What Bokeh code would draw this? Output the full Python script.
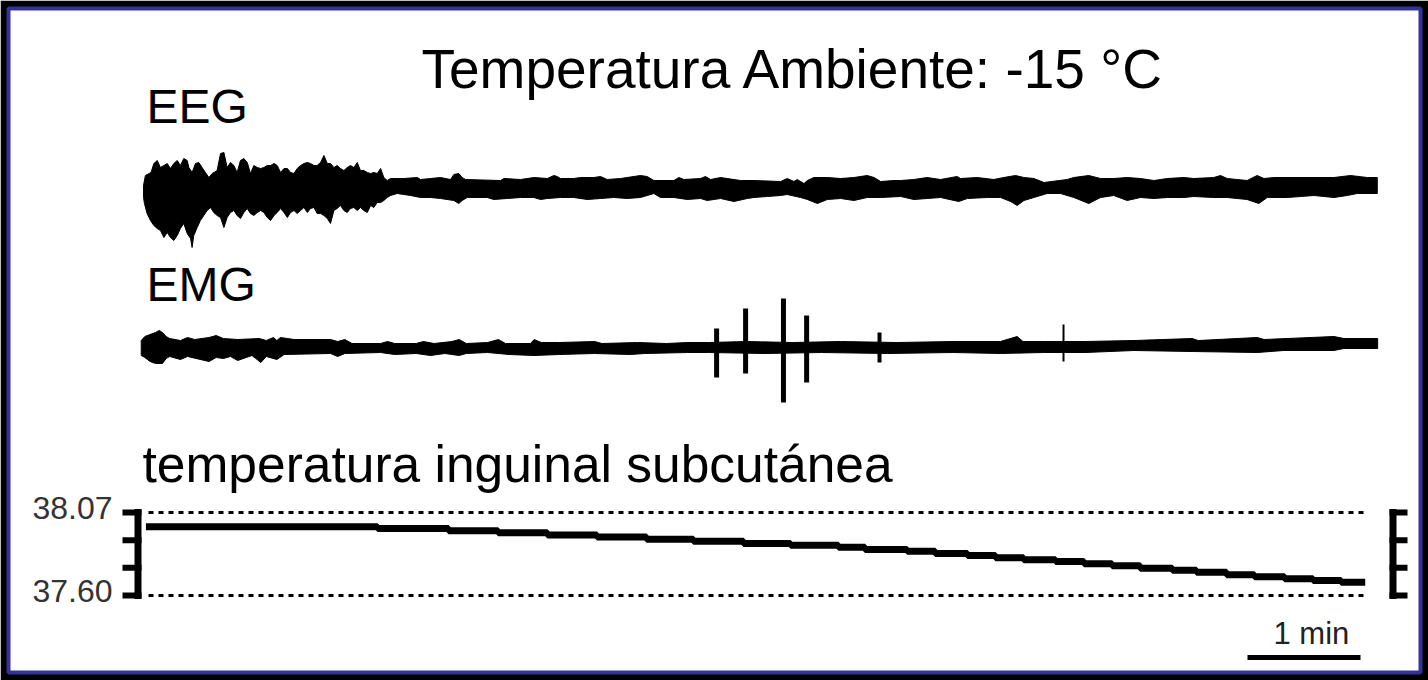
from bokeh.plotting import figure
from bokeh.models import Range1d, ColumnDataSource
from bokeh.core.properties import value
from bokeh.embed import file_html
from bokeh.resources import INLINE

# ---------------- data ----------------
title_text = "Temperatura Ambiente: -15 °C"
track_labels = ["EEG", "EMG", "temperatura inguinal subcutánea"]

# EEG envelope: (time s, amplitude a.u.) upper and lower contours
eeg_upper = [(0, 2), (1, 12), (4, 15), (5.5, 24), (7.3, 27), (9, 20), (10.8, 22), (12.6, 24), (14.3, 19),
             (16.1, 24), (17.9, 27), (19.6, 22), (21.4, 29), (23.2, 27), (24.1, 20), (25.8, 15), (27.6, 24),
             (29.4, 25), (31.1, 20), (32.9, 15), (34.7, 10), (36.5, 14), (39.1, 17), (40.9, 34), (42.7, 35),
             (44.4, 20), (46.2, 25), (48, 22), (49.7, 15), (51.5, 27), (53.3, 29), (55.1, 25), (56.8, 14),
             (58.6, 22), (60.4, 20), (62.2, 19), (63.9, 20), (65.7, 22), (67.5, 22), (69.3, 24), (71, 22),
             (72.8, 15), (74.6, 19), (76.4, 19), (78.1, 15), (79.9, 14), (81.6, 19), (83.4, 22), (85.2, 24),
             (87, 25), (88.7, 24), (90.5, 22), (92.2, 22), (94, 25), (95.8, 32), (97.6, 24), (99.3, 24),
             (101.1, 20), (102.8, 22), (104.6, 19), (106.4, 17), (108.2, 20), (109.9, 22), (111.7, 20),
             (113.5, 25), (115.2, 17), (117, 17), (118.8, 15), (120.6, 14), (122.3, 15), (124.1, 14),
             (125.9, 19), (127.6, 10), (129.4, 7), (131.2, 9), (138.3, 9), (145.4, 10),
             (147.1, 8), (152.4, 9), (157.7, 10), (163.0, 8), (164.8, 13), (167.4, 14), (169.2, 10), (171.0, 8),
             (189.6, 7), (191.4, 9), (200.2, 8), (207.3, 10), (214.4, 9), (217.9, 12), (219.7, 11), (221.4, 9),
             (228.5, 9), (232.0, 10), (239.1, 10), (242.7, 11), (246.2, 8), (253.3, 9), (256.8, 10), (263.9, 12),
             (267.4, 11), (271.0, 7), (281.6, 7), (284.3, 10), (286.9, 8), (295.8, 9), (298.4, 11), (301.1, 8),
             (306.4, 10), (309.9, 9), (317.0, 7), (324.1, 7), (338.3, 6), (341.8, 9), (345.4, 6), (347.1, 8),
             (350.7, 4), (352.5, 7), (356.0, 10), (363.1, 10), (370.2, 9), (377.2, 10), (384.3, 12), (387.9, 10),
             (391.4, 6), (398.5, 7), (402.0, 7), (409.0, 8), (416.1, 10), (423.2, 8), (432.0, 11), (433.8, 9),
             (442.7, 10), (451.5, 8), (456.8, 10), (463.0, 12), (467.5, 10), (472.8, 9), (478.1, 5), (490.4, 8),
             (494.0, 10), (501.9, 12), (508.2, 9), (515.2, 9), (522.3, 10), (529.4, 9), (536.5, 7), (543.6, 9),
             (552.4, 10), (557.7, 9), (568.3, 10), (571.9, 12), (575.4, 9), (586.0, 7), (591.3, 12), (594.9, 9),
             (600.2, 10), (610.8, 10), (621.5, 10), (632.1, 10), (640.9, 12), (649.8, 10), (655.1, 10)]
eeg_lower = [(0, -10), (0.5, -16), (1.9, -26), (3.7, -33), (5.5, -38), (7.3, -41), (9.0, -43), (10.8, -50),
             (12.6, -45), (14.3, -50), (16.1, -53), (17.9, -48), (19.6, -41), (21.4, -36), (23.2, -46), (25.0, -51),
             (25.8, -60), (26.7, -48), (28.5, -40), (30.2, -33), (32.0, -28), (33.8, -23), (35.6, -20), (37.3, -25),
             (39.1, -28), (40.9, -30), (42.7, -40), (44.4, -30), (46.2, -25), (48.0, -23), (49.7, -28), (51.5, -31),
             (53.3, -25), (55.1, -21), (56.8, -26), (58.6, -28), (60.4, -25), (62.2, -23), (63.9, -25), (65.7, -30),
             (67.5, -33), (69.3, -28), (71.0, -25), (72.8, -21), (74.6, -25), (76.4, -30), (78.1, -25), (79.9, -23),
             (81.6, -26), (83.4, -23), (85.2, -20), (87.0, -25), (88.7, -21), (90.5, -20), (92.2, -26), (94.0, -26),
             (95.8, -28), (97.6, -31), (99.3, -36), (101.1, -23), (102.8, -21), (104.6, -18), (106.4, -23),
             (108.2, -25), (109.9, -21), (111.7, -20), (113.5, -23), (115.2, -20), (117.0, -23), (118.8, -25),
             (120.6, -18), (122.3, -20), (124.1, -15), (125.9, -15), (127.6, -13), (129.4, -10), (131.2, -8),
             (134.7, -6), (141.8, -8),
             (147.1, -10), (152.4, -10), (157.7, -11), (164.8, -13), (167.4, -16), (169.2, -13), (171.9, -10),
             (182.5, -10), (186.0, -12), (193.1, -11), (200.2, -10), (207.3, -10), (210.8, -12), (214.4, -11),
             (221.4, -10), (228.5, -10), (235.6, -12), (242.7, -11), (249.7, -10), (256.8, -11), (263.9, -10),
             (271.0, -6), (274.5, -10), (281.6, -10), (288.7, -12), (295.8, -11), (299.3, -13), (306.4, -11),
             (313.5, -14), (320.6, -11), (324.1, -10), (331.2, -9), (338.3, -8), (341.8, -7), (348.9, -10),
             (352.5, -12), (357.8, -16), (363.1, -12), (370.2, -11), (377.2, -13), (384.3, -10), (391.4, -10),
             (402.1, -9), (409.0, -12), (416.1, -11), (423.2, -10), (432.9, -14), (437.4, -11), (448.0, -10),
             (455.1, -10), (460.4, -14), (463.9, -18), (467.5, -13), (472.8, -10), (479.8, -6), (486.9, -6),
             (494.0, -10), (501.9, -16), (508.2, -10), (515.2, -8), (522.3, -13), (529.4, -10), (536.5, -11),
             (543.6, -10), (552.4, -10), (557.7, -9), (568.3, -10), (575.4, -10), (586.0, -12), (592.2, -16),
             (596.7, -10), (607.3, -10), (614.4, -9), (621.5, -8), (632.1, -10), (639.1, -8), (644.5, -6),
             (655.1, -6)]

# EMG envelope: (time s, amplitude a.u.)
emg_upper = [(-1.2, 7), (0.7, 11), (3.5, 13), (6.4, 15), (8.3, 17), (10.1, 15), (12.0, 11), (13.9, 9),
             (19.6, 7), (23.4, 10), (27.2, 8), (34.8, 10), (38.6, 12), (42.4, 9), (50.0, 8), (61.4, 9),
             (65.2, 7), (69.0, 10), (70.8, 7), (72.7, 10), (80.0, 8), (99.3, 8), (103.1, 6), (106.9, 8),
             (110.7, 4), (125.8, 4), (129.6, 6), (133.4, 4), (144.8, 4), (148.6, 6), (154.3, 4), (163.8, 6),
             (167.6, 8), (171.4, 4), (182.7, 5), (188.5, 8), (192.2, 4), (205.5, 4), (207.4, 8), (211.2, 5),
             (220.7, 5), (239.6, 6), (243.4, 4), (262.4, 5), (277.6, 4), (289.0, 5), (300.0, 5), (320.0, 6),
             (345.0, 5), (370.0, 6), (400.0, 5), (430.0, 6), (455.0, 6), (463.9, 11), (467.0, 6), (478.0, 6),
             (500.0, 6), (525.9, 7), (556.8, 9), (560.0, 7), (591.4, 10), (595.0, 8), (632.1, 11), (637.4, 9),
             (655.3, 9)]
emg_lower = [(-1.2, -8), (0.7, -10), (3.5, -14), (6.4, -16), (10.1, -16), (12.0, -11), (13.9, -9), (19.6, -12),
             (23.4, -9), (34.8, -14), (38.6, -10), (42.4, -11), (46.2, -9), (50.0, -13), (57.6, -8), (62.3, -15),
             (65.2, -9), (70.8, -12), (74.7, -7), (99.3, -6), (103.1, -9), (106.9, -6), (125.8, -5), (133.4, -7),
             (144.8, -6), (152.4, -8), (160.0, -6), (167.6, -8), (171.4, -6), (182.7, -5), (194.1, -7),
             (207.4, -8), (220.7, -7), (239.6, -6), (258.6, -7), (266.2, -6), (289.0, -5), (300.0, -5),
             (330.0, -6), (360.0, -5), (395.0, -6), (430.0, -5), (455.0, -6), (478.0, -5), (500.0, -5),
             (525.9, -3), (556.8, -4), (591.4, -5), (605.5, -3), (632.1, -3), (637.4, -1), (655.3, -1)]

# EMG bursts (time s, upper peak, lower peak)
emg_spike_t = [304.3, 319.7, 339.8, 352.1, 390.8, 488.5]
emg_spike_hi = [19, 39, 49, 32, 15, 23]
emg_spike_lo = [-30, -26, -55, -35, -15, -14]

# subcutaneous inguinal temperature (time s, °C)
temp_t = [1.3, 124.3, 162.0, 188.3, 214.5, 240.8, 267.1, 292.0, 318.6, 343.6, 369.0, 383.1, 405.5, 420.4,
          437.5, 452.4, 467.3, 484.3, 499.4, 514.3, 529.2, 546.3, 559.1, 575.1, 589.9, 605.9, 621.0, 635.9, 648.7]
temp_v = [37.989, 37.979, 37.967, 37.955, 37.943, 37.931, 37.919, 37.907, 37.895, 37.884, 37.873, 37.861,
          37.850, 37.838, 37.826, 37.814, 37.803, 37.792, 37.780, 37.768, 37.755, 37.743, 37.731, 37.718,
          37.706, 37.695, 37.685, 37.675, 37.675]
temp_ticks = [38.07, 37.913, 37.757, 37.60]
temp_tick_labels = [38.07, 37.60]

scale_bar_s = 60
scale_bar_label = "1 min"

# ---------------- layout (page pixels) ----------------
PAGE_W, PAGE_H = 1428, 680
M = 8                    # black margin around the white panel
PX0 = 143.0              # page x of t = 0
PX_PER_S = 113.0 / 60.0  # 1 min = 113 px


def t_of(px):
    return (px - PX0) / PX_PER_S


EEG_C = 187.0
EMG_C = 347.0
T_TOP, T_TOP_PX, T_BOT, T_BOT_PX = 38.07, 512.0, 37.60, 595.0
deg_per_px = (T_TOP - T_BOT) / (T_BOT_PX - T_TOP_PX)
X0, X1 = M, PAGE_W - M
Y0, Y1 = M, PAGE_H - M

FONT = value("Liberation Sans")

p = figure(width=PAGE_W, height=PAGE_H, output_backend="svg", toolbar_location=None,
           x_axis_location=None, y_axis_location=None, min_border=M,
           x_range=Range1d(X0, X1), y_range=Range1d(Y1, Y0))
p.extra_x_ranges = {"time": Range1d(t_of(X0), t_of(X1))}
p.extra_y_ranges = {
    "eeg": Range1d(EEG_C - Y1, EEG_C - Y0),
    "emg": Range1d(EMG_C - Y1, EMG_C - Y0),
    "temp": Range1d(T_TOP - (Y1 - T_TOP_PX) * deg_per_px, T_TOP + (T_TOP_PX - Y0) * deg_per_px),
}
p.grid.grid_line_color = None
p.background_fill_color = "white"
p.border_fill_color = "black"
p.outline_line_color = "#333399"
p.outline_line_width = 4

# EEG
xs = [t for t, _ in eeg_upper] + [t for t, _ in reversed(eeg_lower)]
ys = [a for _, a in eeg_upper] + [a for _, a in reversed(eeg_lower)]
p.patch(xs, ys, fill_color="black", line_color="black", line_width=1,
        x_range_name="time", y_range_name="eeg")

# EMG
xs = [t for t, _ in emg_upper] + [t for t, _ in reversed(emg_lower)]
ys = [a for _, a in emg_upper] + [a for _, a in reversed(emg_lower)]
p.patch(xs, ys, fill_color="black", line_color="black", line_width=1,
        x_range_name="time", y_range_name="emg")
spike_w = [5, 5, 5, 5, 4, 2]
p.segment(x0="t", y0="lo", x1="t", y1="hi", line_width="w", line_color="black",
          source=ColumnDataSource(dict(t=emg_spike_t, lo=emg_spike_lo, hi=emg_spike_hi, w=spike_w)),
          x_range_name="time", y_range_name="emg")

# temperature
p.segment(x0=148, x1=1363, y0=[T_TOP, T_BOT], y1=[T_TOP, T_BOT], line_color="black",
          line_width=3, line_dash="5 5", y_range_name="temp")
p.step(temp_t, temp_v, mode="after", line_width=7, line_color="black",
       x_range_name="time", y_range_name="temp")
for bar_x, tick_x0, tick_x1 in [(137.5, 122, 141), (1392.5, 1389, 1407)]:
    p.segment(x0=tick_x0, x1=tick_x1, y0=temp_ticks, y1=temp_ticks, line_color="black",
              line_width=6, y_range_name="temp")
    p.segment(x0=bar_x, x1=bar_x, y0=T_TOP, y1=T_BOT, line_color="black", line_width=7,
              line_cap="square", y_range_name="temp")
p.text(x=[112] * len(temp_tick_labels), y=temp_tick_labels,
       text=[f"{v:.2f}" for v in temp_tick_labels], text_align="right", text_baseline="middle",
       y_offset=-5, text_font=FONT, text_font_size="32px", text_color="#333333", y_range_name="temp")

# scale bar
bar_start = t_of(1247)
p.segment(x0=bar_start, x1=bar_start + scale_bar_s, y0=657, y1=657, line_width=5,
          line_color="black", x_range_name="time")
p.text(x=[1273], y=[644], text=[scale_bar_label], text_font=FONT, text_font_size="31px",
       y_offset=-11, text_color="#222222", text_baseline="alphabetic")

# texts
p.text(x=[421], y=[88], text=[title_text], text_font=FONT, text_font_size="55px",
       y_offset=-20, text_color="black", text_baseline="alphabetic")
p.text(x=[146, 146], y=[124, 302], text=track_labels[:2], text_font=FONT,
       text_font_size="48px", y_offset=-18, text_color="black", text_baseline="alphabetic")
p.text(x=[142], y=[482], text=track_labels[2:], text_font=FONT,
       text_font_size="51.5px", y_offset=-19, text_color="black", text_baseline="alphabetic")

open("out.html", "w").write(file_html(p, INLINE, title="Temperatura Ambiente"))
